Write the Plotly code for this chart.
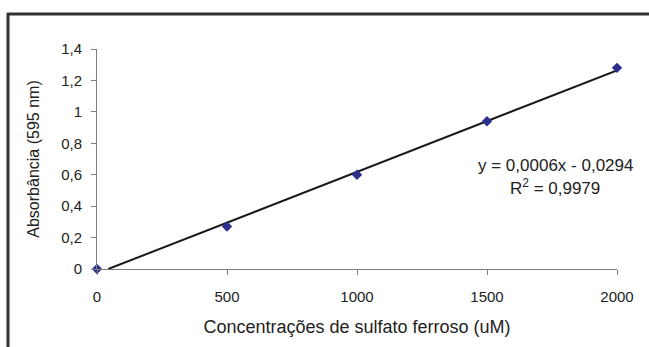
import numpy as np
import plotly.graph_objects as go

# Data
conc = [0, 500, 1000, 1500, 2000]
absorb = [0.0, 0.27, 0.60, 0.94, 1.28]
y_ticks = [0, 0.2, 0.4, 0.6, 0.8, 1.0, 1.2, 1.4]
y_ticklabels = ["0", "0,2", "0,4", "0,6", "0,8", "1", "1,2", "1,4"]
x_ticks = [0, 500, 1000, 1500, 2000]
eq_text = "y = 0,0006x - 0,0294"
r2_text = "R<sup>2</sup> = 0,9979"

# Trendline (least squares), clipped at y=0 like the source
slope, intercept = np.polyfit(conc, absorb, 1)
x0 = max(0.0, -intercept / slope)
x_line = [x0, max(conc)]
y_line = [slope * x + intercept for x in x_line]

W, H = 649, 347
L, R, T, B = 97, 32, 49, 78
pw, ph = W - L - R, H - T - B

def px(xp):
    return (xp - L) / pw

def py(yp):
    return (H - B - yp) / ph

fig = go.Figure()
fig.add_trace(go.Scatter(x=x_line, y=y_line, mode="lines",
                         line=dict(color="#1a1a1a", width=2), hoverinfo="skip"))
fig.add_trace(go.Scatter(x=conc, y=absorb, mode="markers",
                         marker=dict(symbol="diamond", size=8, color="#2B2F8F"),
                         cliponaxis=False))

font = "Liberation Sans, Arial, sans-serif"
fig.update_layout(
    width=W, height=H,
    margin=dict(l=L, r=R, t=T, b=B),
    paper_bgcolor="white", plot_bgcolor="white",
    showlegend=False,
    font=dict(family=font, size=15, color="#222"),
    xaxis=dict(range=[0, 2000], tickvals=x_ticks, showgrid=False, zeroline=False,
               showline=True, linecolor="#7f7f7f", linewidth=1,
               ticks="outside", ticklen=5, tickcolor="#7f7f7f",
               ticklabelstandoff=9,
               tickfont=dict(size=15, color="#222"),
               title=dict(text="Concentrações de sulfato ferroso (uM)",
                          font=dict(size=18, color="#222"), standoff=16)),
    yaxis=dict(range=[0, 1.4], tickvals=y_ticks, ticktext=y_ticklabels,
               showgrid=False, zeroline=False,
               showline=True, linecolor="#7f7f7f", linewidth=1,
               ticks="outside", ticklen=5, tickcolor="#7f7f7f",
               ticklabelstandoff=6,
               tickfont=dict(size=15, color="#222"),
               title=dict(text="Absorbância (595 nm)",
                          font=dict(size=16, color="#222"), standoff=17)),
    annotations=[
        dict(text=eq_text, xref="paper", yref="paper", x=px(555), y=py(165),
             showarrow=False, xanchor="center", yanchor="middle",
             font=dict(size=17, color="#222")),
        dict(text=r2_text, xref="paper", yref="paper", x=px(555), y=py(187),
             showarrow=False, xanchor="center", yanchor="middle",
             font=dict(size=17, color="#222")),
    ],
    shapes=[
        dict(type="line", xref="paper", yref="paper", x0=px(7), x1=px(W + 2),
             y0=py(14), y1=py(14), line=dict(color="#333", width=3)),
        dict(type="line", xref="paper", yref="paper", x0=px(8), x1=px(8),
             y0=py(13), y1=py(H + 2), line=dict(color="#333", width=3)),
    ],
)

fig.write_html("out.html", config={"displayModeBar": False},
               post_script="document.body.style.margin='0';")
